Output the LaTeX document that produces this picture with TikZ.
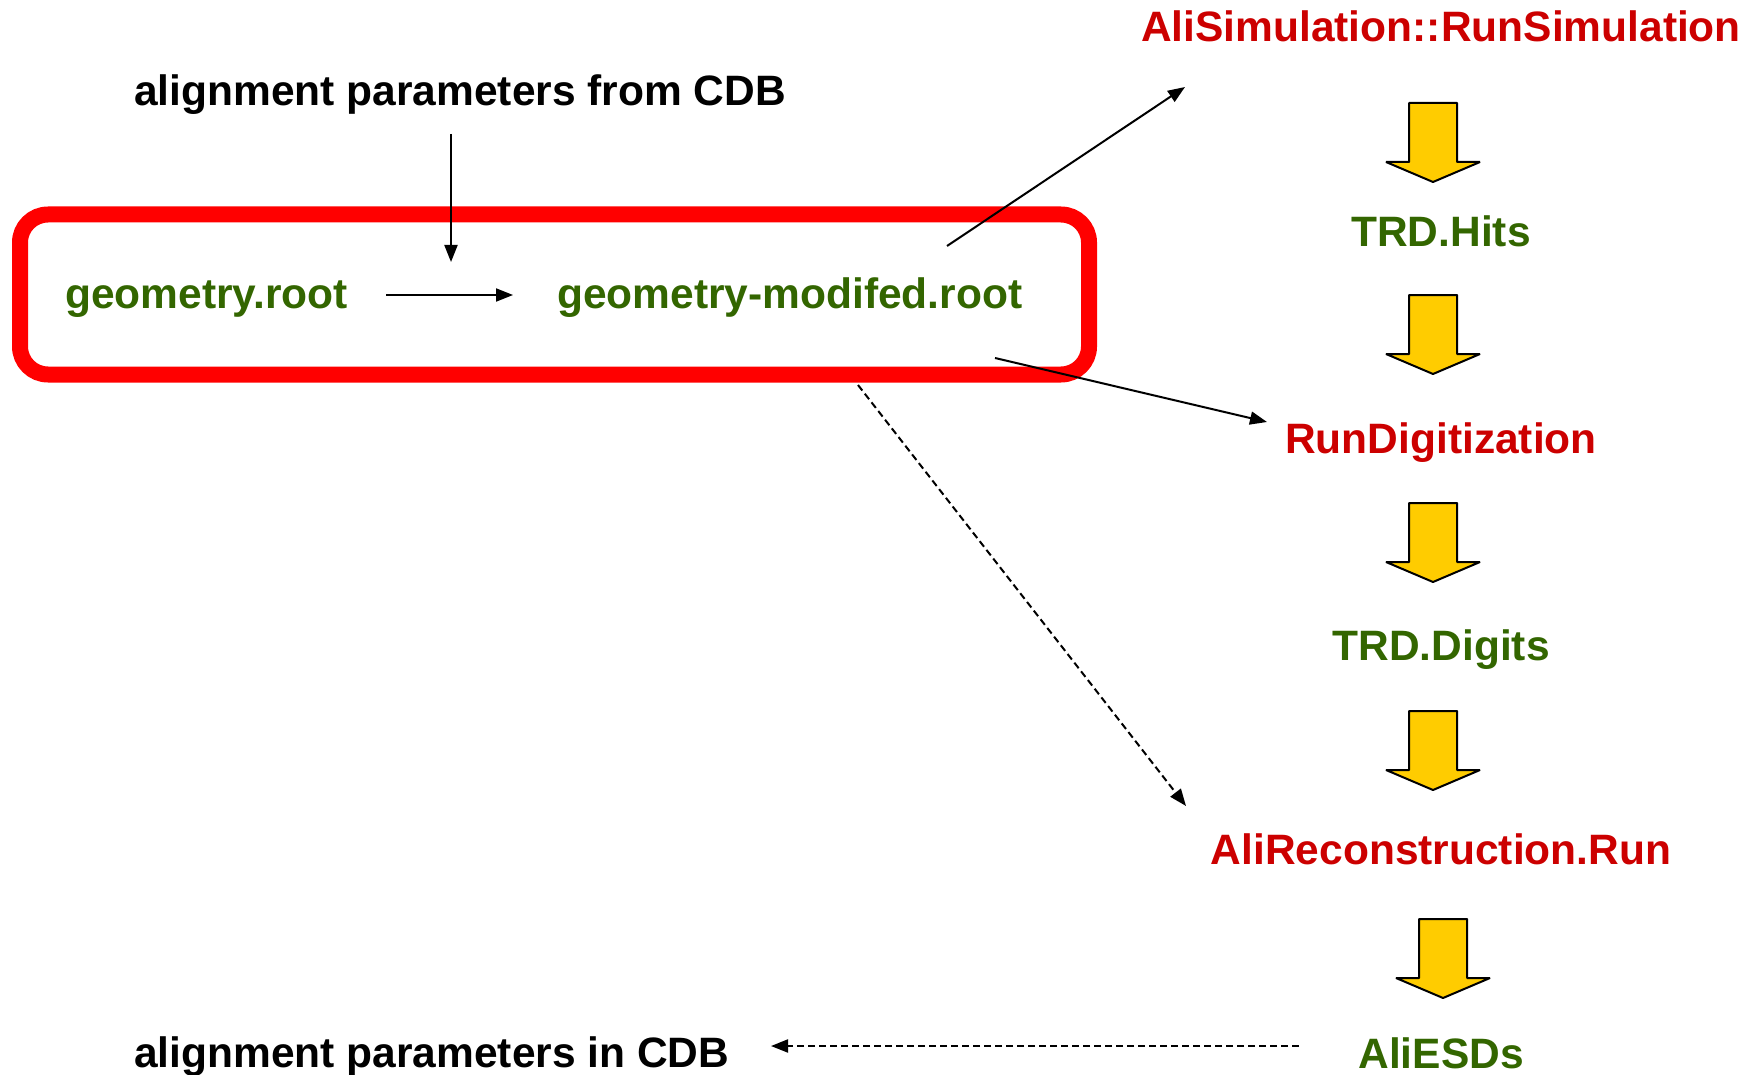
\documentclass[tikz,border=0pt]{standalone}
\usepackage{fontspec}
\setmainfont{Liberation Sans}
\usetikzlibrary{arrows.meta}
\definecolor{stepred}{RGB}{204,0,0}
\definecolor{filegreen}{RGB}{51,102,0}
\definecolor{boxred}{RGB}{255,0,0}
\definecolor{flowyellow}{RGB}{255,204,0}
\tikzset{
  txt/.style={inner sep=0pt, font=\fontsize{42.5pt}{50pt}\selectfont\bfseries},
  stepname/.style={txt, text=stepred, anchor=base},
  filename/.style={txt, text=filegreen},
  plain/.style={txt, text=black, anchor=base west},
  conn/.style={draw=black, line width=2pt, -{Triangle[length=17pt,width=13pt]}},
  dashconn/.style={conn, dash pattern=on 7pt off 4pt},
  flowarrow/.pic={
    \draw[line width=2pt, fill=flowyellow, line join=bevel]
      (-24,0) -- (24,0) -- (24,59) -- (47,59) -- (0,79) -- (-47,59) -- (-24,59) -- cycle;
  }
}
\begin{document}
\begin{tikzpicture}[x=1pt, y=-1pt]
\useasboundingbox (0,0) rectangle (1758,1075);

% processing chain on the right
\node[stepname] (alisim) at (1441,42) {AliSimulation::RunSimulation};
\node[filename, anchor=base] (hits) at (1441,247) {TRD.Hits};
\node[stepname] (rundig) at (1441,453) {RunDigitization};
\node[filename, anchor=base] (digits) at (1441,660) {TRD.Digits};
\node[stepname] (alireco) at (1441,864) {AliReconstruction.Run};
\node[filename, anchor=base] (aliesd) at (1441,1068) {AliESDs};

\pic at (1433,103) {flowarrow};
\pic at (1433,295) {flowarrow};
\pic at (1433,503) {flowarrow};
\pic at (1433,711) {flowarrow};
\pic at (1443,919) {flowarrow};

% alignment input and output
\node[plain] (cdbfrom) at (134,106) {alignment parameters from CDB};
\node[plain] (cdbin) at (134,1067) {alignment parameters in CDB};

% geometry files
\draw[boxred, line width=16pt, rounded corners=28pt] (20,214.5) rectangle (1089,374.5);
\node[filename, anchor=base west] (geo) at (65,308) {geometry.root};
\node[filename, anchor=base west] (geomod) at (557,308) {geometry-modifed.root};
\coordinate (merge) at ([shift={(-106,-46)}]geomod.base west);

% connectors
\draw[conn] ([shift={(317,28)}]cdbfrom.base west) -- (merge);
\draw[conn] ([shift={(321,-13)}]geo.base west) -- ([shift={(-44,-13)}]geomod.base west);
\draw[conn] ([shift={(390,-62)}]geomod.base west) -- ([shift={(-256,45)}]alisim.base);
\draw[conn] ([shift={(438,50)}]geomod.base west) -- ([shift={(-174,-31)}]rundig.base);
\draw[dashconn] ([shift={(301,77)}]geomod.base west) -- ([shift={(-255,-58)}]alireco.base);
\draw[dashconn] ([shift={(-142,-22)}]aliesd.base) -- ([shift={(637,-21)}]cdbin.base west);
\end{tikzpicture}
\end{document}
